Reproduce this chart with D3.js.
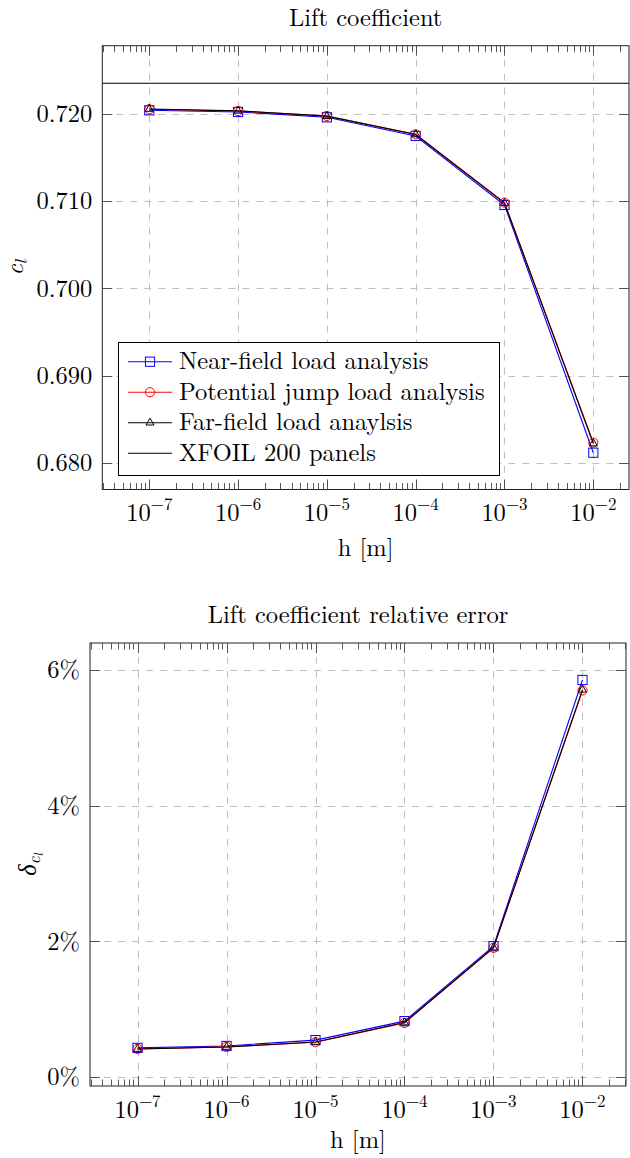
<!DOCTYPE html>
<html>
<head>
<meta charset="utf-8">
<script src="https://cdn.jsdelivr.net/npm/d3@7"></script>
<style>
  body { margin: 0; background: #fff; }
</style>
</head>
<body>
<svg id="fig" width="630" height="1158"></svg>
<script>
// Step size h [m] for each run
const hValues = [1e-7, 1e-6, 1e-5, 1e-4, 1e-3, 1e-2];

// Lift coefficient c_l per load-analysis method
const clNearField = [0.72042, 0.72023, 0.71962, 0.71748, 0.70956, 0.68115];
const clPotentialJump = [0.72054, 0.72034, 0.71977, 0.71767, 0.70983, 0.68230];
const clFarField = [0.72057, 0.72036, 0.71975, 0.71765, 0.70978, 0.68220];
const clXfoil = 0.72352;

// Relative error of c_l against XFOIL, in percent
const errNearField = [0.432, 0.460, 0.546, 0.826, 1.930, 5.855];
const errPotentialJump = [0.417, 0.447, 0.516, 0.800, 1.907, 5.700];
const errFarField = [0.415, 0.445, 0.518, 0.805, 1.910, 5.710];

// Axis ticks
const clTicks = [0.680, 0.690, 0.700, 0.710, 0.720];
const errTicks = [0, 2, 4, 6];
const decadeExponents = [-7, -6, -5, -4, -3, -2];

const seriesNames = ["Near-field load analysis", "Potential jump load analysis", "Far-field load anaylsis"];
const seriesColors = ["#0000ff", "#ff0000", "#000000"];
const seriesMarks = ["square", "circle", "triangle"];

const FONT = "\"Latin Modern Roman\", \"Liberation Serif\", serif";
const svg = d3.select("#fig");
const FS = 24.5;    // main font size
const FS_SUP = 17;  // superscript / subscript size
const MARK_R = 4.6;

function label(g) {
  return g.append("text").style("font-family", FONT).attr("fill", "#000");
}

function drawMark(g, type, x, y, color) {
  if (type === "square") {
    g.append("rect").attr("x", x - MARK_R).attr("y", y - MARK_R)
      .attr("width", 2 * MARK_R).attr("height", 2 * MARK_R)
      .attr("fill", "none").attr("stroke", color).attr("stroke-width", 1);
  } else if (type === "circle") {
    g.append("circle").attr("cx", x).attr("cy", y).attr("r", MARK_R)
      .attr("fill", "none").attr("stroke", color).attr("stroke-width", 1);
  } else {
    const r = MARK_R;
    const p = [[x, y - r], [x - r * 0.866, y + r / 2], [x + r * 0.866, y + r / 2]];
    g.append("path").attr("d", "M" + p.map(q => q.join(",")).join("L") + "Z")
      .attr("fill", "none").attr("stroke", color).attr("stroke-width", 1);
  }
}

function drawPanel(cfg) {
  const b = cfg.box;
  const x = d3.scaleLog().domain(cfg.xDomain).range([b.left, b.right]);
  const y = d3.scaleLinear().domain(cfg.yDomain).range([b.bottom, b.top]);
  const g = svg.append("g");

  // grid
  const grid = g.append("g").attr("stroke", "#bfbfbf").attr("stroke-width", 1)
    .attr("stroke-dasharray", "7,7");
  decadeExponents.forEach(e => {
    const xv = Math.round(x(Math.pow(10, e))) + 0.5;
    grid.append("line").attr("x1", xv).attr("x2", xv).attr("y1", b.top).attr("y2", b.bottom);
  });
  cfg.yTicks.forEach(t => {
    const yv = Math.round(y(t)) + 0.5;
    grid.append("line").attr("x1", b.left).attr("x2", b.right).attr("y1", yv).attr("y2", yv);
  });

  // reference line
  if (cfg.reference !== undefined) {
    g.append("line").attr("x1", b.left).attr("x2", b.right)
      .attr("y1", y(cfg.reference)).attr("y2", y(cfg.reference))
      .attr("stroke", "#000").attr("stroke-width", 1);
  }

  // series lines
  const line = d3.line().x((d, i) => x(hValues[i])).y(d => y(d));
  cfg.series.forEach((s, k) => {
    g.append("path").datum(s).attr("d", line).attr("fill", "none")
      .attr("stroke", seriesColors[k]).attr("stroke-width", 1.1);
  });
  // markers
  cfg.series.forEach((s, k) => {
    s.forEach((v, i) => drawMark(g, seriesMarks[k], x(hValues[i]), y(v), seriesColors[k]));
  });

  // frame
  g.append("rect").attr("x", b.left).attr("y", b.top)
    .attr("width", b.right - b.left).attr("height", b.bottom - b.top)
    .attr("fill", "none").attr("stroke", "#222").attr("stroke-width", 1);

  // ticks (inward, top and bottom / left and right)
  const ticks = g.append("g").attr("stroke", "#444").attr("stroke-width", 0.9);
  const lo = Math.log10(cfg.xDomain[0]), hi = Math.log10(cfg.xDomain[1]);
  for (let e = Math.floor(lo); e <= Math.ceil(hi); e++) {
    for (let k = 1; k <= 9; k++) {
      const v = k * Math.pow(10, e);
      if (v < cfg.xDomain[0] || v > cfg.xDomain[1]) continue;
      const xv = Math.round(x(v)) + 0.5;
      const len = k === 1 ? 10 : 6.5;
      ticks.append("line").attr("x1", xv).attr("x2", xv).attr("y1", b.top).attr("y2", b.top + len);
      ticks.append("line").attr("x1", xv).attr("x2", xv).attr("y1", b.bottom).attr("y2", b.bottom - len);
    }
  }
  cfg.yTicks.forEach(t => {
    const yv = Math.round(y(t)) + 0.5;
    ticks.append("line").attr("x1", b.left).attr("x2", b.left + 10).attr("y1", yv).attr("y2", yv);
    ticks.append("line").attr("x1", b.right).attr("x2", b.right - 10).attr("y1", yv).attr("y2", yv);
  });

  // x tick labels: 10^e
  decadeExponents.forEach(e => {
    const t = label(g).attr("x", x(Math.pow(10, e))).attr("y", b.bottom + 31.5)
      .attr("text-anchor", "middle").attr("font-size", FS);
    t.append("tspan").text("10");
    t.append("tspan").attr("font-size", FS_SUP).attr("dy", -11).text("\u2212" + Math.abs(e));
  });

  // y tick labels
  cfg.yTicks.forEach(t => {
    label(g).attr("x", b.left - 10).attr("y", y(t) + 8.3)
      .attr("text-anchor", "end").attr("font-size", FS).text(cfg.yFormat(t));
  });

  // title and axis labels
  label(g).attr("x", (b.left + b.right) / 2).attr("y", b.top - 20)
    .attr("text-anchor", "middle").attr("font-size", FS).text(cfg.title);
  label(g).attr("x", (b.left + b.right) / 2).attr("y", cfg.xLabelY)
    .attr("text-anchor", "middle").attr("font-size", FS).text("h [m]");
  cfg.yLabel(g, (b.top + b.bottom) / 2);

  return { x, y, g };
}

// Upper panel: lift coefficient
drawPanel({
  box: { left: 102.3, right: 629, top: 45.7, bottom: 489.5 },
  xDomain: [Math.pow(10, -7.529), Math.pow(10, -1.598)],
  yDomain: [0.67693, 0.72783],
  yTicks: clTicks,
  yFormat: d3.format(".3f"),
  series: [clNearField, clPotentialJump, clFarField],
  reference: clXfoil,
  title: "Lift coefficient",
  xLabelY: 556,
  yLabel: (g, cy) => {
    const t = label(g).attr("transform", `translate(23,${cy}) rotate(-90)`)
      .attr("text-anchor", "middle").attr("font-size", FS);
    t.append("tspan").attr("font-style", "italic").text("c");
    t.append("tspan").attr("font-style", "italic").attr("font-size", FS_SUP).attr("dy", 4).text("l");
  }
});

// Legend
const legendNames = seriesNames.concat(["XFOIL 200 panels"]);
const lg = svg.append("g");
lg.append("rect").attr("x", 118.5).attr("y", 342.5).attr("width", 381).attr("height", 133)
  .attr("fill", "#fff").attr("stroke", "#000").attr("stroke-width", 1);
legendNames.forEach((name, i) => {
  const cy = 361.7 + i * 30.5;
  const color = i < 3 ? seriesColors[i] : "#000";
  lg.append("line").attr("x1", 128).attr("x2", 172).attr("y1", cy).attr("y2", cy)
    .attr("stroke", color).attr("stroke-width", 1.1);
  if (i < 3) drawMark(lg, seriesMarks[i], 150, cy, color);
  label(lg).attr("x", 179).attr("y", cy + 7.5).attr("font-size", FS).text(name);
});

// Lower panel: relative error
drawPanel({
  box: { left: 90, right: 626, top: 643, bottom: 1086 },
  xDomain: [Math.pow(10, -7.534), Math.pow(10, -1.511)],
  yDomain: [-0.13, 6.4],
  yTicks: errTicks,
  yFormat: d => d + "%",
  series: [errNearField, errPotentialJump, errFarField],
  title: "Lift coefficient relative error",
  xLabelY: 1148,
  yLabel: (g, cy) => {
    const t = label(g).attr("transform", `translate(36,${cy}) rotate(-90)`)
      .attr("text-anchor", "middle").attr("font-size", FS);
    t.append("tspan").attr("font-style", "italic").text("\u03b4");
    t.append("tspan").attr("font-style", "italic").attr("font-size", FS_SUP).attr("dy", 4).text("c");
    t.append("tspan").attr("font-style", "italic").attr("font-size", 12.5).attr("dy", 3).text("l");
  }
});
</script>
</body>
</html>
